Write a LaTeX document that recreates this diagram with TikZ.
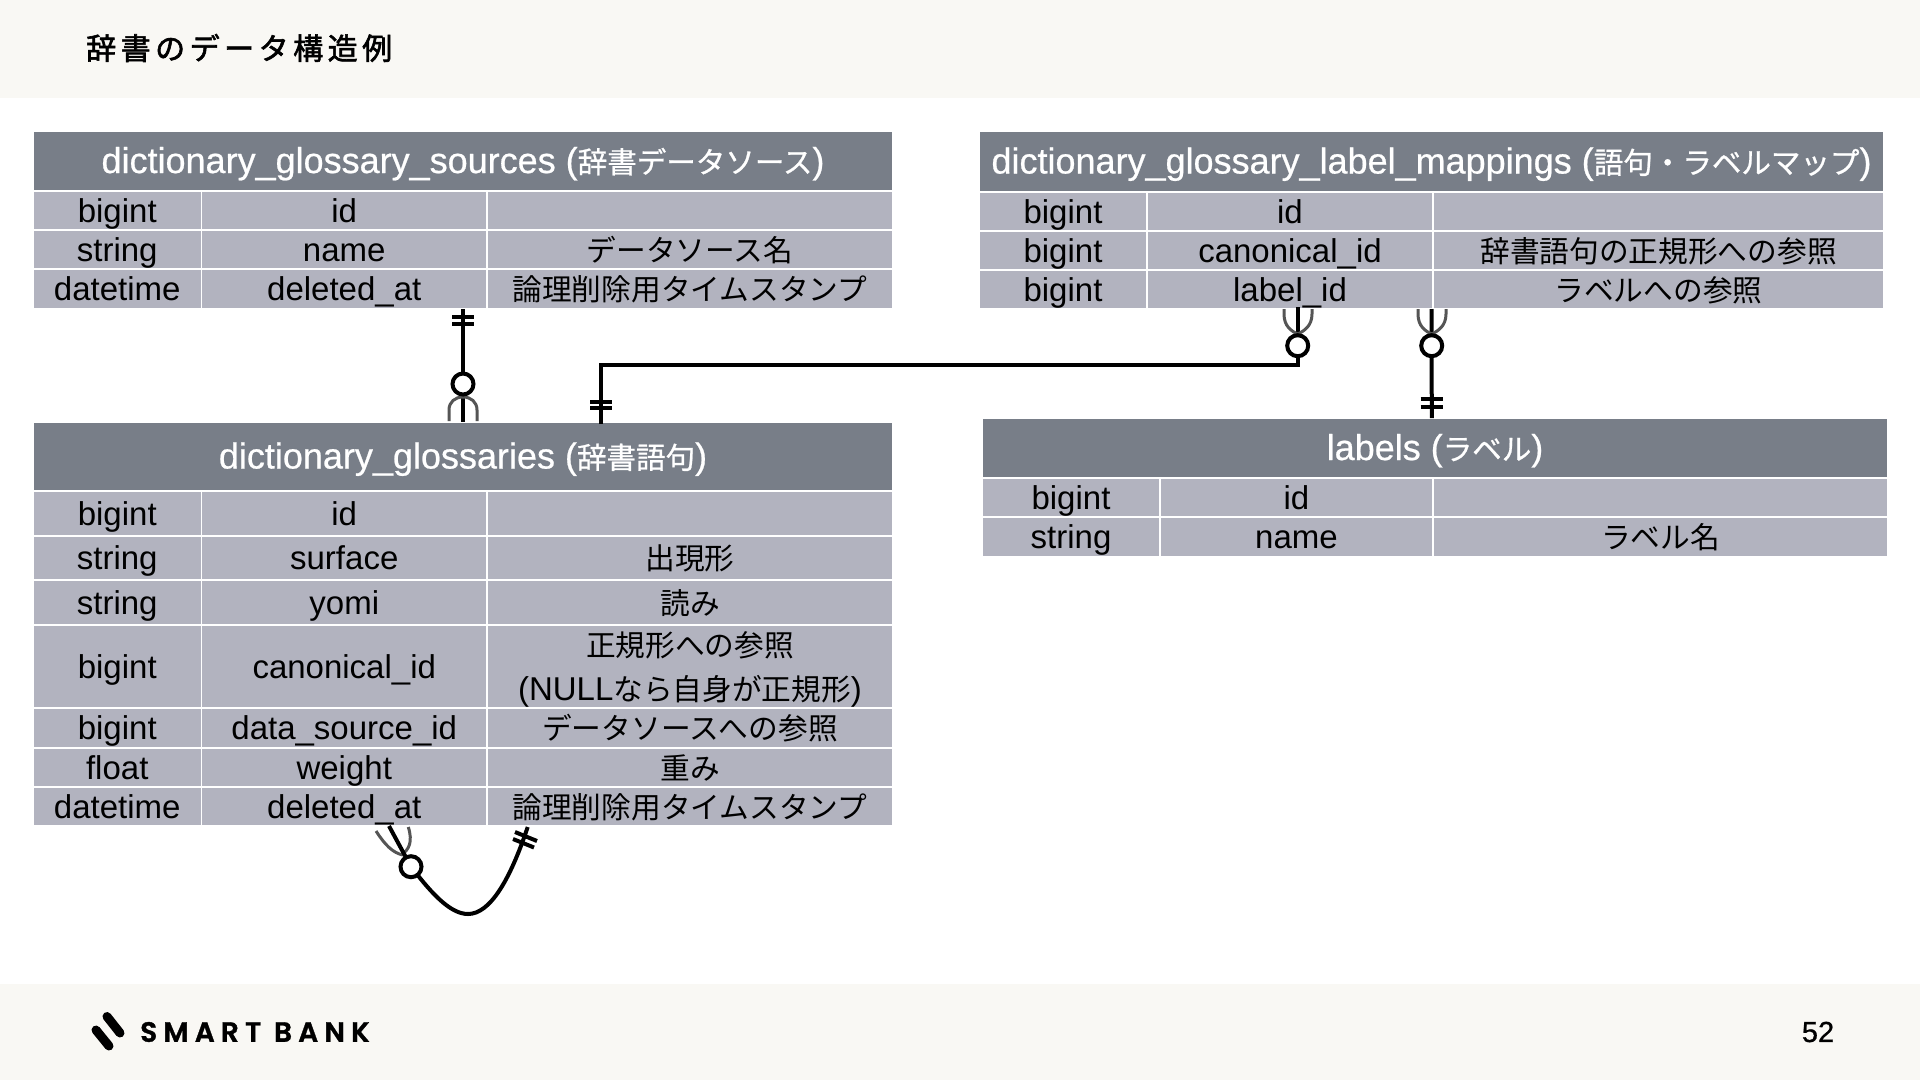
\documentclass[tikz,border=0pt]{standalone}
\usepackage{fontspec}
\setmainfont{Liberation Sans}
\newfontfamily\cjk[Scale=0.90]{Noto Sans CJK JP}
\newfontfamily\cjkhead[Scale=0.82,FakeBold=0.8]{Noto Sans CJK JP}
\newfontfamily\headfont[FakeBold=0.6]{Liberation Sans}
\newfontfamily\pagefont[FakeBold=0.8]{Liberation Sans}
\newfontfamily\titlefont[LetterSpace=15,FakeBold=2]{Noto Sans CJK JP}
\newfontfamily\logofont[LetterSpace=22,FakeBold=1.2]{Poppins SemiBold}
\newcommand\ja[1]{{\cjk #1}}
\newcommand\jah[1]{{\cjkhead #1}}
\definecolor{strip}{HTML}{F9F8F4}
\definecolor{headgray}{HTML}{787E88}
\definecolor{cellgray}{HTML}{B2B3BF}
\definecolor{crowgray}{HTML}{555555}
\tikzset{
  boxbase/.style={rectangle,inner sep=0pt,outer sep=0pt,draw=white,line width=1.5pt,align=center},
  headcell/.style={boxbase,fill=headgray,text=white,font=\fontsize{36}{36}\headfont,text height=30pt,text depth=6pt},
  bodycell/.style={boxbase,fill=cellgray,text=black,font=\fontsize{33}{33}\selectfont,text height=28pt,text depth=5pt},
  tablebox/.style={rectangle,inner sep=0pt,outer sep=0pt},
  erline/.style={black,line width=4pt},
  crow/.style={crowgray,line width=3pt},
  ringmark/.style={circle,draw=black,fill=white,line width=4pt,minimum size=21pt,inner sep=0pt,outer sep=0pt}
}
% name, x1,y1,x2,y2, style, text
\newcommand\cell[7]{%
  \pgfmathsetmacro\cw{#4-#2}\pgfmathsetmacro\ch{#5-#3}%
  \pgfmathsetmacro\cx{(#2+#4)/2}\pgfmathsetmacro\cy{(#3+#5)/2}%
  \node[#6,minimum width=\cw pt,minimum height=\ch pt] (#1) at (\cx,\cy) {#7};}
% prefix, y1,y2, x0,x1,x2,x3, a,b,c
\newcommand\rowc[9]{\def\rp{#1}\def\ra{#2}\def\rb{#3}\def\xa{#4}\def\xb{#5}\def\xc{#6}\def\xd{#7}\def\ta{#8}\def\tb{#9}\rowcfin}
\newcommand\rowcfin[1]{%
  \cell{\rp a}{\xa}{\ra}{\xb}{\rb}{bodycell}{\ta}
  \cell{\rp b}{\xb}{\ra}{\xc}{\rb}{bodycell}{\tb}
  \cell{\rp c}{\xc}{\ra}{\xd}{\rb}{bodycell}{#1}}
\begin{document}
\begin{tikzpicture}[x=1pt,y=-1pt]
\useasboundingbox (0,0) rectangle (1920,1080);
\fill[white] (0,0) rectangle (1920,1080);
\fill[strip] (0,0) rectangle (1920,97.5);
\fill[strip] (0,983.5) rectangle (1920,1080);
\node[anchor=west,inner sep=0pt,font=\fontsize{30}{30}\selectfont] (title) at (86,48) {\titlefont 辞書のデータ構造例};

% dictionary_glossary_sources
\cell{sources}{33}{131}{893}{309}{tablebox}{}
\cell{shead}{33}{131}{893}{191}{headcell}{dictionary\_glossary\_sources (\jah{辞書データソース})}
\rowc{sa}{191}{230}{33}{201.5}{487}{893}{bigint}{id}{}
\rowc{sb}{230}{269}{33}{201.5}{487}{893}{string}{name}{\ja{データソース名}}
\rowc{sc}{269}{309}{33}{201.5}{487}{893}{datetime}{deleted\_at}{\ja{論理削除用タイムスタンプ}}

% dictionary_glossaries
\cell{glossaries}{33}{422}{893}{826}{tablebox}{}
\cell{ghead}{33}{422}{893}{491}{headcell}{dictionary\_glossaries (\jah{辞書語句})}
\rowc{ga}{491}{536}{33}{201.5}{487}{893}{bigint}{id}{}
\rowc{gb}{536}{580}{33}{201.5}{487}{893}{string}{surface}{\ja{出現形}}
\rowc{gc}{580}{625}{33}{201.5}{487}{893}{string}{yomi}{\ja{読み}}
\rowc{gd}{625}{708}{33}{201.5}{487}{893}{bigint}{canonical\_id}{}
\node[font=\fontsize{33}{33}\selectfont,inner sep=0pt,text height=28pt,text depth=5pt] (gdl1) at (690,645) {\ja{正規形への参照}};
\node[font=\fontsize{33}{33}\selectfont,inner sep=0pt,text height=28pt,text depth=5pt] (gdl2) at (690,689) {(NULL\ja{なら自身が正規形})};
\rowc{ge}{708}{748}{33}{201.5}{487}{893}{bigint}{data\_source\_id}{\ja{データソースへの参照}}
\rowc{gf}{748}{787}{33}{201.5}{487}{893}{float}{weight}{\ja{重み}}
\rowc{gg}{787}{826}{33}{201.5}{487}{893}{datetime}{deleted\_at}{\ja{論理削除用タイムスタンプ}}

% dictionary_glossary_label_mappings
\cell{mappings}{979}{131}{1884}{309}{tablebox}{}
\cell{mhead}{979}{131}{1884}{192}{headcell}{dictionary\_glossary\_label\_mappings (\jah{語句・ラベルマップ})}
\rowc{ma}{192}{231}{979}{1147}{1433}{1884}{bigint}{id}{}
\rowc{mb}{231}{270}{979}{1147}{1433}{1884}{bigint}{canonical\_id}{\ja{辞書語句の正規形への参照}}
\rowc{mc}{270}{309}{979}{1147}{1433}{1884}{bigint}{label\_id}{\ja{ラベルへの参照}}

% labels
\cell{labels}{982}{418}{1888}{557}{tablebox}{}
\cell{lhead}{982}{418}{1888}{478}{headcell}{labels (\jah{ラベル})}
\rowc{la}{478}{517}{982}{1160}{1433}{1888}{bigint}{id}{}
\rowc{lb}{517}{557}{982}{1160}{1433}{1888}{string}{name}{\ja{ラベル名}}

% sources -- glossaries
\draw[erline] (sources.south) -- (glossaries.north);
\draw[erline] (452,317) -- (474,317) (452,324) -- (474,324);
\draw[crow] (449,421) -- (449,410) .. controls (449,402) and (455,397) .. (463,397) .. controls (471,397) and (477,402) .. (477,410) -- (477,421);
\node[ringmark] (ring1) at (463,384) {};

% glossaries -- mappings
\coordinate (gup) at (600.7,365);
\coordinate (mdown) at (1297.7,365);
\draw[erline,line cap=rect] ([xshift=137.7pt]glossaries.north) -- (gup) -- (mdown) -- ([xshift=-133.8pt]mappings.south);
\draw[erline] (590,401.7) -- (612,401.7) (590,408) -- (612,408);
\draw[crow] (1284,309) -- (1284,314) .. controls (1284,326) and (1291,331) .. (1297.7,334) .. controls (1304,331) and (1312,326) .. (1312,314) -- (1312,309);
\node[ringmark] (ring2) at (1297.7,345.7) {};

% labels -- mappings
\draw[erline] (mappings.south) -- ([xshift=-3.2pt]labels.north);
\draw[erline] (1420.7,399) -- (1442.7,399) (1420.7,406.7) -- (1442.7,406.7);
\draw[crow] (1418,309) -- (1418,314) .. controls (1418,326) and (1425,331) .. (1431.7,334) .. controls (1438,331) and (1446,326) .. (1446,314) -- (1446,309);
\node[ringmark] (ring3) at (1431.7,345.7) {};

% self reference
\coordinate (selfa) at (389,826);
\coordinate (selfb) at (527.7,827);
\draw[crow] (376,831) .. controls (385,845) and (393,853) .. (403,855);
\draw[crow] (408.3,827) .. controls (413,842) and (409,850) .. (401,855);
\draw[erline] (selfa) -- (411,866.7);
\node[ringmark] (ring4) at (411,866.7) {};
\draw[erline] (ring4) .. controls (435,897) and (452,914) .. (468,914) .. controls (490,914) and (510,880) .. (selfb);
\draw[erline] (515,832) -- (537,841) (513,839) -- (534,847.5);

% footer
\draw[black,line width=9pt,line cap=round] (107,1016.5) -- (120,1033);
\draw[black,line width=9pt,line cap=round] (96,1030) -- (109,1046);
\node[anchor=west,inner sep=0pt,font=\fontsize{28}{28}\selectfont] (logo) at (140,1032) {\logofont SMART BANK};
\node[inner sep=0pt,font=\fontsize{29}{29}\selectfont] (page) at (1818,1032) {\pagefont 52};
\end{tikzpicture}
\end{document}
